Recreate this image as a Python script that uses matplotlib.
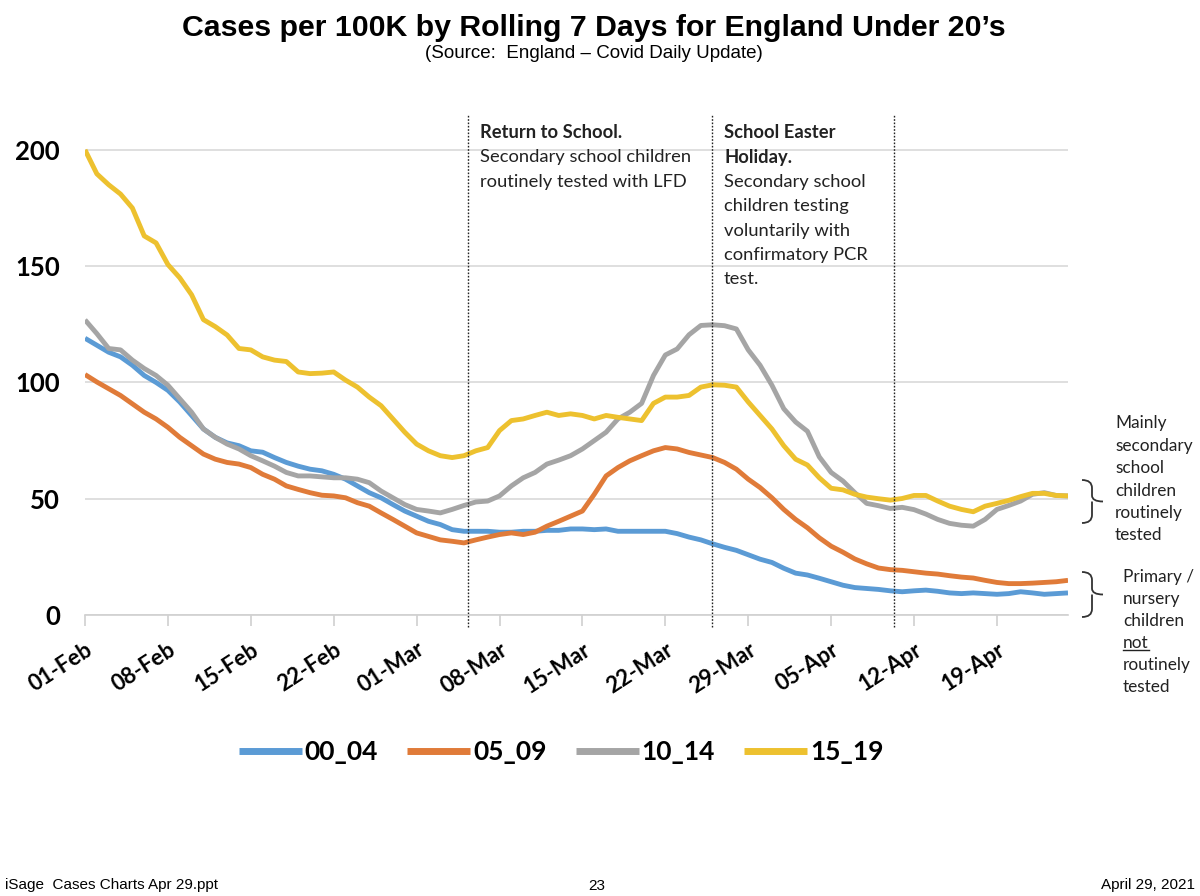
import numpy as np
import matplotlib
matplotlib.use('Agg')
from matplotlib import pyplot as plt
from matplotlib.path import Path
from matplotlib.patches import PathPatch
from matplotlib.lines import Line2D

# rolling 7 day cases per 100K, one value per day from 01-Feb
age_00_04 = [119, 116, 113, 111, 107.4, 103, 100, 96.6, 91.6, 85.8,
             80, 76.4, 74, 72.8, 70.6, 70, 67.7, 65.6, 64, 62.7,
             62, 60.5, 58.4, 55.5, 52.6, 50.4, 47.5, 44.7, 42.5, 40.3,
             38.9, 36.7, 36, 36, 36, 35.6, 35.6, 36, 36, 36.4,
             36.4, 37, 37, 36.7, 37, 36, 36, 36, 36, 36,
             35, 33.5, 32.3, 30.6, 29.1, 27.8, 25.9, 24, 22.6, 20.1,
             18, 17.2, 15.8, 14.3, 12.8, 11.8, 11.4, 11, 10.4, 10,
             10.4, 10.7, 10.2, 9.5, 9.2, 9.5, 9.2, 8.9, 9.2, 10,
             9.5, 8.9, 9.2, 9.5]
age_05_09 = [103.4, 100.2, 97.3, 94.4, 90.8, 87.2, 84.3, 80.7, 76.4, 72.8,
             69.2, 67, 65.6, 64.9, 63.4, 60.5, 58.4, 55.5, 54, 52.6,
             51.5, 51.2, 50.4, 48.3, 46.8, 43.9, 41.1, 38.2, 35.3, 33.8,
             32.3, 31.7, 31, 32.3, 33.5, 34.6, 35.3, 34.6, 35.6, 38.2,
             40.3, 42.5, 44.7, 51.9, 59.8, 63.4, 66.3, 68.5, 70.6, 72,
             71.4, 69.9, 68.8, 67.7, 65.6, 62.7, 58.4, 54.8, 50.4, 45.4,
             41.1, 37.5, 33.2, 29.6, 27, 24.1, 22, 20.2, 19.5, 19.2,
             18.6, 18, 17.6, 16.9, 16.3, 15.9, 14.9, 14, 13.5, 13.5,
             13.7, 14, 14.3, 14.9]
age_10_14 = [126.9, 121, 114.6, 114, 109.6, 106, 103, 98.8, 93, 87.2,
             80, 76.4, 73.5, 71.4, 68.5, 66.3, 64, 61.3, 59.8, 59.8,
             59.4, 59, 59, 58.4, 56.9, 53.3, 50.4, 47.5, 45.4, 44.7,
             43.9, 45.4, 47.1, 48.6, 49, 51.2, 55.5, 59, 61.3, 64.9,
             66.6, 68.5, 71.4, 75, 78.6, 84.3, 87.2, 91, 103, 111.8,
             114.4, 120.5, 124.5, 124.8, 124.4, 123, 114, 107.4, 98.8, 88.7,
             83, 79, 68, 61.3, 57.6, 52.6, 48, 47, 45.8, 46.3,
             45.3, 43.4, 41.1, 39.4, 38.6, 38.2, 41.1, 45.4, 47.1, 49,
             51.9, 52.6, 51.4, 51.2]
age_15_19 = [200, 189.7, 185, 181, 175, 163, 160, 150.7, 145, 137.7,
             127, 124, 120.4, 114.6, 114, 111, 109.6, 109, 104.5, 103.8,
             104, 104.5, 101, 98, 93.7, 90, 84.3, 78.6, 73.5, 70.6,
             68.5, 67.7, 68.5, 70.6, 72, 79.3, 83.6, 84.3, 85.8, 87.2,
             85.8, 86.5, 85.8, 84.3, 85.8, 85, 84.3, 83.6, 91, 93.7,
             93.7, 94.4, 98, 99, 98.8, 98, 91.6, 85.8, 80, 72.8,
             67, 64.5, 59, 54.5, 53.8, 51.9, 50.7, 50, 49.4, 50.1,
             51.4, 51.4, 49, 46.8, 45.4, 44.4, 46.8, 48, 49.3, 50.9,
             52.3, 52.3, 51.4, 51.2]

series_names = ['00_04', '05_09', '10_14', '15_19']
series_colors = ['#5B9BD5', '#E07B39', '#A5A5A5', '#EDC12F']

tick_labels = ['01-Feb', '08-Feb', '15-Feb', '22-Feb', '01-Mar', '08-Mar',
               '15-Mar', '22-Mar', '29-Mar', '05-Apr', '12-Apr', '19-Apr']
y_ticks = [0, 50, 100, 150, 200]

# days after 01-Feb where the dotted event lines sit
event_days = [32.3, 52.9, 68.3]

W, H = 1200, 896
BODY = 'Lato'


def fx(px):
    return px / W


def fy(py):
    return 1 - py / H


def build_base_figure():
    fig = plt.figure(figsize=(W / 100, H / 100), dpi=100)
    ax = fig.add_axes([fx(85), fy(615), fx(1068) - fx(85), fy(115) - fy(615)])
    for side in ['top', 'right', 'left']:
        ax.spines[side].set_visible(False)
    ax.spines['bottom'].set_color('#D0D0D0')
    ax.spines['bottom'].set_linewidth(1.2)
    return fig, ax


def format_figure(ax):
    ax.set_xlim(0, 83)
    ax.set_ylim(0, 215)
    ax.set_yticks(y_ticks)
    ax.set_yticklabels([str(v) for v in y_ticks], fontsize=18.5,
                       fontweight='bold', family=BODY)
    ax.tick_params(axis='y', length=0, pad=18)
    ax.set_xticks(np.arange(0, 7 * len(tick_labels), 7))
    ax.set_xticklabels(tick_labels, rotation=33, ha='right', va='top',
                       rotation_mode='anchor', fontsize=16,
                       fontweight='bold', family=BODY)
    ax.tick_params(axis='x', length=8, width=1.2, color='#D0D0D0',
                   direction='out', pad=9)
    ax.grid(axis='y', color='#D9D9D9', linewidth=1.2)
    ax.set_axisbelow(True)


def draw_brace(fig, x0, y_top, y_bot):
    mid = (y_top + y_bot) / 2
    xs = x0 + 10
    tip = x0 + 21
    pts = [(x0, y_top), (xs, y_top), (xs, y_top + 8),
           (xs, mid - 6), (xs, mid), (tip, mid),
           (xs, mid), (xs, mid + 6),
           (xs, y_bot - 8), (xs, y_bot), (x0, y_bot)]
    codes = [Path.MOVETO, Path.CURVE3, Path.CURVE3,
             Path.LINETO, Path.CURVE3, Path.CURVE3,
             Path.MOVETO, Path.CURVE3,
             Path.LINETO, Path.CURVE3, Path.CURVE3]
    verts = [(fx(a), fy(b)) for a, b in pts]
    patch = PathPatch(Path(verts, codes), transform=fig.transFigure,
                      fill=False, edgecolor='#333333', linewidth=1.3)
    fig.add_artist(patch)


def text_block(fig, x, y0, step, lines, size=13.2):
    artists = []
    for i, (txt, bold) in enumerate(lines):
        t = fig.text(fx(x), fy(y0 + i * step), txt, fontsize=size,
                     family=BODY, fontweight='bold' if bold else 'normal',
                     color='#222222', ha='left', va='center')
        artists.append(t)
    return artists


fig, ax = build_base_figure()

x_days = np.arange(len(age_00_04))
for vals, name, color in zip([age_00_04, age_05_09, age_10_14, age_15_19],
                             series_names, series_colors):
    ax.plot(x_days, vals, color=color, linewidth=3.5, label=name,
            solid_capstyle='butt')

for d in event_days:
    ax.plot([d, d], [-5, 215], color='#222222', linestyle=(0, (1.2, 1.2)),
            linewidth=1.0, clip_on=False)

format_figure(ax)

ax.legend(loc='center', bbox_to_anchor=(fx(561), fy(752)),
          bbox_transform=fig.transFigure, ncol=4, frameon=False,
          prop={'family': BODY, 'weight': 'bold', 'size': 19},
          handlelength=2.4, handletextpad=0.1, columnspacing=1.1)
for line in ax.get_legend().get_lines():
    line.set_linewidth(5)

fig.text(fx(594), fy(28), 'Cases per 100K by Rolling 7 Days for England Under 20\u2019s',
         fontsize=21.8, fontweight='bold', family='Liberation Sans',
         ha='center', va='center')
fig.text(fx(594), fy(54), '(Source:  England \u2013 Covid Daily Update)',
         fontsize=13.5, family='Liberation Sans', ha='center', va='center')

text_block(fig, 480, 133, 24.4, [('Return to School.', True),
                                 ('Secondary school children', False),
                                 ('routinely tested with LFD', False)])
text_block(fig, 724, 133, 24.4, [('School Easter', True),
                                 ('Holiday.', True),
                                 ('Secondary school', False),
                                 ('children testing', False),
                                 ('voluntarily with', False),
                                 ('confirmatory PCR', False),
                                 ('test.', False)])

text_block(fig, 1115, 423, 22.5, [('Mainly', False), ('secondary', False),
                                  ('school', False), ('children', False),
                                  ('routinely', False), ('tested', False)],
           size=12.4)
prim = text_block(fig, 1123, 577, 22.0, [('Primary /', False), ('nursery', False),
                                         ('children', False), ('not', False),
                                         ('routinely', False), ('tested', False)],
                  size=12.4)

draw_brace(fig, 1082, 480, 523)
draw_brace(fig, 1082, 572, 617)

fig.canvas.draw()
bb = prim[3].get_window_extent().transformed(fig.transFigure.inverted())
fig.add_artist(Line2D([bb.x0, bb.x1], [bb.y0 + 0.001, bb.y0 + 0.001],
                      transform=fig.transFigure, color='#222222', linewidth=1.0))

foot = ['Liberation Sans Narrow', 'Liberation Sans']
fig.text(fx(5), fy(885), 'iSage  Cases Charts Apr 29.ppt', fontsize=11,
         family=foot, ha='left', va='center')
fig.text(fx(597), fy(886), '23', fontsize=11, family=foot,
         ha='center', va='center')
fig.text(fx(1195), fy(885), 'April 29, 2021', fontsize=11, family=foot,
         ha='right', va='center')

fig.savefig('out.png', dpi=100, facecolor='white')
